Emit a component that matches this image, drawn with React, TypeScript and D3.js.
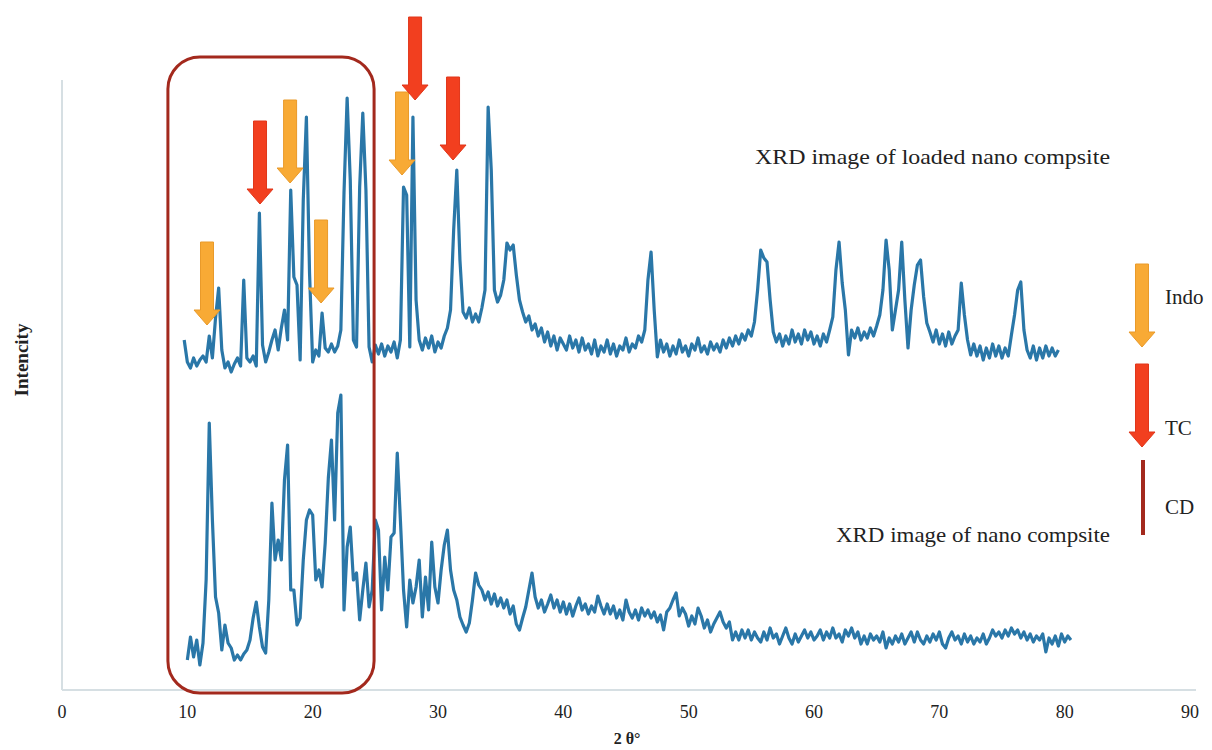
import React from "react";
import * as d3 from "d3";

// XRD patterns, 2θ sampled every 0.25°
const stepDeg = 0.25;
const loadedStart = 9.75;
const loadedCounts = [
  350, 328, 322, 332, 324, 330, 334, 328, 354, 332,
  372, 402, 340, 322, 328, 318, 326, 332, 324, 410,
  332, 328, 334, 324, 477, 345, 328, 338, 350, 360,
  340, 362, 380, 350, 500, 413, 405, 330, 490, 573,
  417, 328, 340, 334, 377, 342, 338, 346, 338, 344,
  360, 497, 592, 510, 350, 343, 503, 577, 500, 343,
  328, 345, 336, 346, 334, 344, 338, 348, 332, 350,
  503, 495, 343, 573, 390, 350, 340, 352, 342, 354,
  338, 348, 342, 354, 362, 380, 460, 520, 430, 378,
  372, 382, 368, 376, 368, 382, 400, 583, 520, 400,
  388, 395, 410, 447, 440, 445, 415, 390, 378, 368,
  374, 360, 366, 354, 362, 348, 358, 344, 354, 340,
  352, 346, 340, 354, 342, 350, 338, 352, 340, 346,
  336, 350, 334, 344, 338, 350, 336, 346, 334, 344,
  340, 352, 338, 346, 342, 354, 348, 360, 410, 438,
  380, 333, 350, 338, 346, 334, 344, 336, 350, 338,
  344, 334, 346, 340, 352, 338, 344, 336, 348, 340,
  346, 338, 350, 342, 352, 344, 354, 346, 356, 350,
  360, 354, 368, 400, 440, 432, 428, 390, 358, 348,
  356, 344, 354, 346, 360, 348, 356, 346, 360, 350,
  358, 346, 354, 344, 356, 348, 360, 373, 420, 448,
  407, 380, 335, 360, 352, 362, 350, 358, 352, 362,
  354, 364, 375, 400, 450, 420, 360, 380, 400, 448,
  390, 342, 380, 405, 425, 430, 393, 367, 358, 348,
  360, 346, 356, 344, 358, 346, 354, 360, 407, 375,
  350, 335, 346, 334, 344, 330, 342, 332, 346, 334,
  344, 332, 342, 334, 355, 375, 400, 408, 360, 340,
  332, 344, 330, 342, 332, 344, 334, 342, 334, 340,
];

const plainStart = 10.0;
const plainCounts = [
  30, 53, 33, 50, 25, 47, 110, 267, 170, 93,
  77, 40, 65, 47, 42, 30, 35, 30, 36, 40,
  50, 72, 88, 63, 43, 37, 90, 187, 130, 150,
  130, 210, 245, 100, 100, 65, 72, 130, 170, 180,
  175, 110, 120, 103, 147, 212, 250, 170, 277, 295,
  80, 143, 163, 110, 117, 70, 100, 127, 83, 100,
  170, 160, 80, 133, 100, 153, 157, 237, 170, 100,
  63, 110, 87, 103, 130, 73, 113, 80, 148, 103,
  87, 120, 145, 160, 120, 100, 90, 73, 65, 58,
  67, 90, 117, 105, 100, 90, 98, 86, 96, 84,
  92, 82, 90, 76, 84, 66, 60, 72, 83, 100,
  117, 93, 82, 90, 78, 86, 95, 82, 90, 78,
  88, 76, 86, 74, 84, 92, 80, 86, 76, 84,
  78, 94, 84, 76, 86, 76, 84, 72, 80, 70,
  90, 78, 72, 80, 70, 82, 74, 80, 72, 78,
  68, 75, 60, 78, 82, 90, 97, 74, 82, 76,
  64, 74, 66, 82, 74, 62, 70, 58, 66, 72,
  78, 68, 62, 68, 50, 58, 50, 60, 52, 60,
  50, 58, 52, 48, 58, 50, 62, 52, 56, 46,
  54, 62, 52, 46, 56, 48, 54, 60, 52, 58,
  50, 54, 60, 50, 58, 52, 62, 52, 56, 48,
  60, 54, 62, 52, 58, 46, 54, 46, 56, 50,
  54, 48, 58, 42, 52, 46, 54, 48, 56, 46,
  52, 58, 48, 58, 50, 46, 54, 48, 56, 50,
  58, 46, 42, 52, 58, 50, 54, 46, 56, 48,
  54, 46, 52, 48, 56, 46, 52, 60, 54, 58,
  52, 60, 54, 62, 56, 60, 52, 58, 50, 56,
  48, 54, 50, 56, 38, 52, 46, 54, 44, 56,
  48, 54, 50,
];

const xTicks = [0, 10, 20, 30, 40, 50, 60, 70, 80, 90];

// peak markers: 2θ position and intensity at arrow tip
const indoPeaks = [11.57, 18.2, 20.67, 27.13];
const indoTips = [365, 507, 387, 515];
const tcPeaks = [15.8, 28.17, 31.2];
const tcTips = [486, 590, 530];

// CD region (boxed)
const cdRange = [8.45, 24.9];

const legendLabels = ["Indo", "TC", "CD"];

const W = 1212;
const H = 750;
const LINE = "#2a77a8";
const ORANGE = "#f8aa35";
const RED = "#f23f1f";
const DARKRED = "#a3291d";
const AXIS = "#d6dfe3";
const FONT = "'Liberation Serif', 'DejaVu Serif', serif";

function arrowPath(cx: number, tipY: number) {
  const len = 83, sw = 6.5, hw = 13, hh = 15;
  return `M${cx - sw},${tipY - len}L${cx + sw},${tipY - len}L${cx + sw},${tipY - hh}L${cx + hw},${tipY - hh}L${cx},${tipY}L${cx - hw},${tipY - hh}L${cx - sw},${tipY - hh}Z`;
}

export default function App() {
  const x = d3.scaleLinear().domain([0, 90]).range([62, 1190]);
  const y = d3.scaleLinear().domain([0, 610]).range([690, 80]);

  const loadedPath = d3
    .line<number>()
    .x((_, i) => x(loadedStart + i * stepDeg))
    .y((d) => y(d))(loadedCounts);
  const plainPath = d3
    .line<number>()
    .x((_, i) => x(plainStart + i * stepDeg))
    .y((d) => y(d))(plainCounts);

  const boxTop = y(633);
  const boxBottom = y(-3);

  return (
    <svg
      width={W}
      height={H}
      style={{ position: "absolute", left: 0, top: 0, background: "#fff" }}
      fontFamily={FONT}
    >
      {/* axes */}
      <line x1={x(0)} x2={x(0)} y1={80} y2={y(0)} stroke={AXIS} strokeWidth={2} />
      <line x1={x(0)} x2={1196} y1={y(0)} y2={y(0)} stroke={AXIS} strokeWidth={2} />
      {xTicks.map((t) => (
        <text key={t} x={x(t)} y={718} textAnchor="middle" fontSize={18} fill="#222">
          {t}
        </text>
      ))}
      <text x={627} y={744} textAnchor="middle" fontSize={16} fontWeight="bold" fill="#222">
        2 θ°
      </text>
      <text
        transform={`translate(28,360) rotate(-90)`}
        textAnchor="middle"
        fontSize={19}
        fontWeight="bold"
        fill="#222"
      >
        Intencity
      </text>

      {/* traces */}
      <path d={plainPath || ""} fill="none" stroke={LINE} strokeWidth={3.2} strokeLinejoin="round" />
      <path d={loadedPath || ""} fill="none" stroke={LINE} strokeWidth={3.2} strokeLinejoin="round" />

      {/* CD box */}
      <rect
        x={x(cdRange[0])}
        y={boxTop}
        width={x(cdRange[1]) - x(cdRange[0])}
        height={boxBottom - boxTop}
        rx={32}
        fill="none"
        stroke={DARKRED}
        strokeWidth={3}
      />

      {/* peak arrows */}
      {indoPeaks.map((p, i) => (
        <path key={"i" + i} d={arrowPath(x(p), y(indoTips[i]))} fill={ORANGE} stroke="#e99a2a" strokeWidth={1} />
      ))}
      {tcPeaks.map((p, i) => (
        <path key={"t" + i} d={arrowPath(x(p), y(tcTips[i]))} fill={RED} stroke="#e0361a" strokeWidth={1} />
      ))}

      {/* annotations */}
      <text x={755} y={164} fontSize={21} fill="#222" textLength={355} lengthAdjust="spacingAndGlyphs">
        XRD image of loaded nano compsite
      </text>
      <text x={836} y={542} fontSize={21} fill="#222" textLength={274} lengthAdjust="spacingAndGlyphs">
        XRD image of nano compsite
      </text>

      {/* legend */}
      <path d={arrowPath(1142, 347)} fill={ORANGE} stroke="#e99a2a" strokeWidth={1} />
      <path d={arrowPath(1142, 447)} fill={RED} stroke="#e0361a" strokeWidth={1} />
      <line x1={1143} x2={1143} y1={460} y2={535} stroke={DARKRED} strokeWidth={4} />
      <text x={1165} y={304} fontSize={21} fill="#222">{legendLabels[0]}</text>
      <text x={1165} y={435} fontSize={21} fill="#222">{legendLabels[1]}</text>
      <text x={1165} y={514} fontSize={21} fill="#222">{legendLabels[2]}</text>
    </svg>
  );
}
